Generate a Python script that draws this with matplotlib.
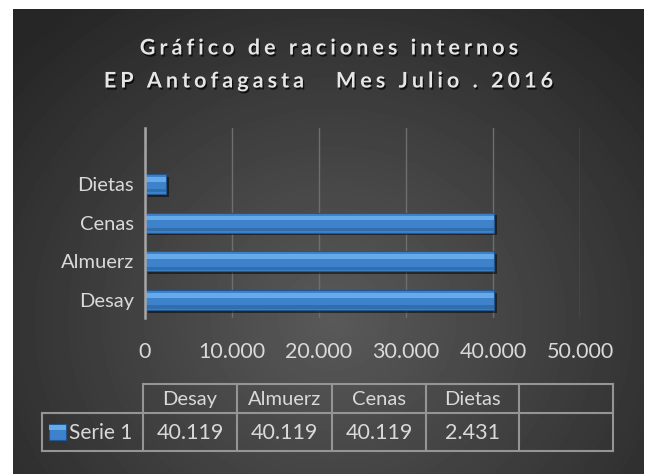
import numpy as np
import matplotlib.pyplot as plt
import matplotlib.patheffects as pe
from matplotlib.patches import Rectangle

## DATA
categories = ['Desay', 'Almuerz', 'Cenas', 'Dietas']
values = [40119, 40119, 40119, 2431]
value_labels = ['40.119', '40.119', '40.119', '2.431']
xticks = [0, 10000, 20000, 30000, 40000, 50000]
xtick_labels = ['0', '10.000', '20.000', '30.000', '40.000', '50.000']
series_name = 'Serie 1'
title_lines = ['Gráfico de raciones internos', 'EP Antofagasta   Mes Julio . 2016']

W, H = 650, 474
txt = '#d9d9d9'
blue = '#3d82cb'
font = ['Lato', 'DejaVu Sans']
fs = 14.5     # words
fs_num = 15.5  # numbers


def box(x0, y0, x1, y1):
    # pixel box -> figure fraction
    return [x0 / W, 1 - y1 / H, (x1 - x0) / W, (y1 - y0) / H]


def spaced(s):
    return '\u2009\u200a'.join(s)


fig = plt.figure(figsize=(6.5, 4.74), dpi=100)
fig.patch.set_facecolor('white')

## BACKGROUND PANEL (radial gradient)
bg = fig.add_axes(box(13, 9, 644, 474))
yy, xx = np.mgrid[0:465, 0:631]
r = np.hypot(xx - 320, (yy - 310) * 1.1) / 430
shade = 0.35 - 0.2 * np.clip(r, 0, 1)
bg.imshow(shade, cmap='gray', vmin=0, vmax=1, aspect='auto', interpolation='bilinear')
bg.set_axis_off()

## TITLE
for i, line in enumerate(title_lines):
    fig.text(0.5 * (13 + 644) / W + 0.002, 1 - (48 + 33 * i) / H, spaced(line),
             ha='center', va='center', color='#e6e6e6', fontsize=15.5,
             fontweight='bold', family=font,
             path_effects=[pe.withSimplePatchShadow(offset=(1, -1.5),
                                                    shadow_rgbFace='black', alpha=0.7)])

## BARS
ax = fig.add_axes(box(145, 128, 580, 318))
ax.set_facecolor('none')
pos = np.arange(len(categories))
ax.barh(pos, values, height=0.52, color=blue, edgecolor='#23558f', linewidth=0.8,
        zorder=3, path_effects=[pe.withSimplePatchShadow(offset=(2, -2),
                                                         shadow_rgbFace='black', alpha=0.5)])
ax.barh(pos + 0.12, values, height=0.12, color='#66aae9', linewidth=0, zorder=4)
ax.barh(pos - 0.18, values, height=0.08, color='#306eae', linewidth=0, zorder=4)

ax.set_xlim(0, 50000)
ax.set_ylim(-0.465, 4.445)
ax.set_xticks(xticks)
ax.set_xticklabels(xtick_labels)
ax.set_yticks(pos)
ax.set_yticklabels(categories)
ax.tick_params(axis='x', length=0, pad=17, labelsize=fs_num, labelcolor=txt)
ax.tick_params(axis='y', length=0, pad=8, labelsize=fs, labelcolor=txt)
for lab in ax.get_xticklabels() + ax.get_yticklabels():
    lab.set_family(font)
ax.grid(axis='x', color='#6e6e6e', linewidth=1, zorder=0)
for s in ['top', 'right', 'bottom']:
    ax.spines[s].set_visible(False)
ax.spines['left'].set_color('#a6a6a6')
ax.spines['left'].set_linewidth(1.8)
ax.spines['left'].set_zorder(5)

## DATA TABLE
tx = fig.add_axes(box(40, 382, 615, 453))
tx.set_xlim(40, 615)
tx.set_ylim(453, 382)
tx.set_axis_off()
cols = [42, 143, 237, 332, 426, 519, 613]
rows = [384, 413, 451]
lc = '#959595'
tx.plot([cols[1], cols[-1]], [rows[0], rows[0]], color=lc, lw=1.5)
tx.plot([cols[0], cols[-1]], [rows[1], rows[1]], color=lc, lw=1.5)
tx.plot([cols[0], cols[-1]], [rows[2], rows[2]], color=lc, lw=1.5)
tx.plot([cols[0], cols[0]], [rows[1], rows[2]], color=lc, lw=1.5)
for c in cols[1:]:
    tx.plot([c, c], [rows[0], rows[2]], color=lc, lw=1.5)
for i, (cat, lab) in enumerate(zip(categories, value_labels)):
    xc = (cols[i + 1] + cols[i + 2]) / 2
    tx.text(xc, (rows[0] + rows[1]) / 2 + 1, cat, ha='center', va='center',
            color=txt, fontsize=fs, family=font)
    tx.text(xc, (rows[1] + rows[2]) / 2 + 1, lab, ha='center', va='center',
            color=txt, fontsize=fs_num, family=font)
tx.add_patch(Rectangle((49, 424), 17, 16, facecolor=blue, edgecolor='#23558f', lw=0.8))
tx.add_patch(Rectangle((49, 425), 17, 5, facecolor='#66aae9', lw=0))
tx.text(69, (rows[1] + rows[2]) / 2 + 1, series_name, ha='left', va='center',
        color=txt, fontsize=15, family=font)

fig.savefig('out.png', dpi=100)
